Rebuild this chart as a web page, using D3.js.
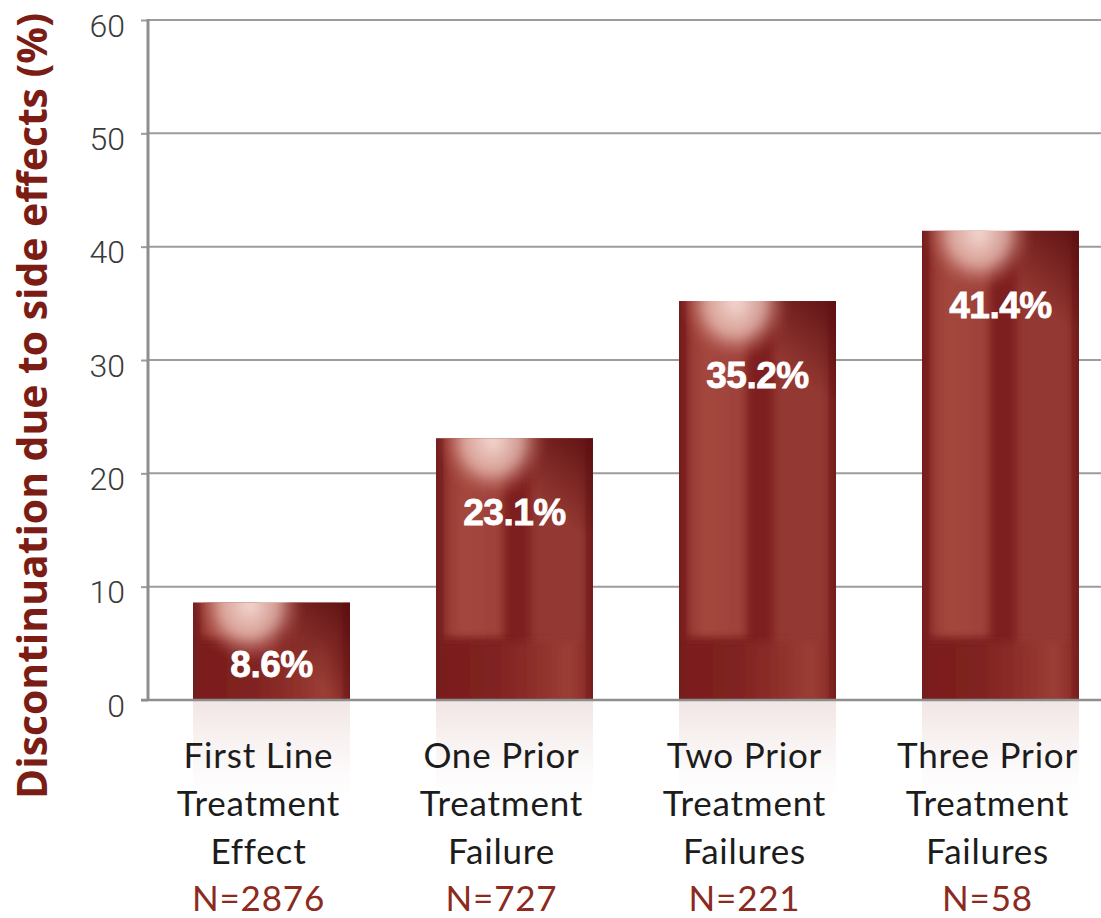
<!DOCTYPE html>
<html>
<head>
<meta charset="utf-8">
<script src="https://cdn.jsdelivr.net/npm/d3@7"></script>
<style>
  html, body { margin: 0; padding: 0; background: #ffffff; }
  svg { display: block; }
</style>
</head>
<body>
<svg id="chart" width="1101" height="918"></svg>
<script>
// ---- data ----
const categories = ["First Line Treatment Effect", "One Prior Treatment Failure", "Two Prior Treatment Failures", "Three Prior Treatment Failures"];
const labelLines = [
  ["First Line", "Treatment", "Effect"],
  ["One Prior", "Treatment", "Failure"],
  ["Two Prior", "Treatment", "Failures"],
  ["Three Prior", "Treatment", "Failures"]
];
const sampleSizes = ["N=2876", "N=727", "N=221", "N=58"];
const values = [8.6, 23.1, 35.2, 41.4];
const valueLabels = ["8.6%", "23.1%", "35.2%", "41.4%"];
const yTicks = [0, 10, 20, 30, 40, 50, 60];
const yTitle = "Discontinuation due to side effects (%)";

// ---- layout ----
const W = 1101, H = 918;
const axisX = 148, y0px = 700, y60px = 20;
const svg = d3.select("#chart");

const y = d3.scaleLinear().domain([0, 60]).range([y0px, y60px]);
const x = d3.scaleBand().domain(categories).range([150, 1122]).paddingInner(0.354).paddingOuter(0.177);

const defs = svg.append("defs");

const blur = defs.append("filter").attr("id", "soft").attr("x", "-30%").attr("y", "-30%").attr("width", "160%").attr("height", "160%");
blur.append("feGaussianBlur").attr("stdDeviation", 4);

// top highlight
const gR = defs.append("radialGradient").attr("id", "barHi").attr("cx", 0.5).attr("cy", 0.5).attr("r", 0.5);
gR.append("stop").attr("offset", 0).attr("stop-color", "#f3d9d2").attr("stop-opacity", 1);
gR.append("stop").attr("offset", 0.55).attr("stop-color", "#e2b0a6").attr("stop-opacity", 0.85);
gR.append("stop").attr("offset", 0.85).attr("stop-color", "#b8625a").attr("stop-opacity", 0.35);
gR.append("stop").attr("offset", 1).attr("stop-color", "#9a3a34").attr("stop-opacity", 0);

// top-right dark corner
const gC = defs.append("linearGradient").attr("id", "barCorner").attr("x1", 1).attr("x2", 0.45).attr("y1", 0).attr("y2", 0.7);
gC.append("stop").attr("offset", 0).attr("stop-color", "#5a0e10").attr("stop-opacity", 0.9);
gC.append("stop").attr("offset", 1).attr("stop-color", "#5a0e10").attr("stop-opacity", 0);

// left light strip gradient
const gL = defs.append("linearGradient").attr("id", "stripL").attr("x1", 0).attr("x2", 1).attr("y1", 0).attr("y2", 0);
gL.append("stop").attr("offset", 0).attr("stop-color", "#953830");
gL.append("stop").attr("offset", 0.3).attr("stop-color", "#a4473f");
gL.append("stop").attr("offset", 1).attr("stop-color", "#9d4139");

// bottom band gradient
const gB = defs.append("linearGradient").attr("id", "barB").attr("x1", 0).attr("x2", 1).attr("y1", 0).attr("y2", 0);
[[0, "#7a1d1d"], [0.35, "#7f2120"], [0.65, "#8e302b"], [0.85, "#9c3f37"], [1, "#842422"]].forEach(s => gB.append("stop").attr("offset", s[0]).attr("stop-color", s[1]));

// reflection
const gRef = defs.append("linearGradient").attr("id", "refl").attr("x1", 0).attr("x2", 0).attr("y1", 0).attr("y2", 1);
gRef.append("stop").attr("offset", 0).attr("stop-color", "#efe3e1").attr("stop-opacity", 0.9);
gRef.append("stop").attr("offset", 0.5).attr("stop-color", "#f7f0ef").attr("stop-opacity", 0.6);
gRef.append("stop").attr("offset", 1).attr("stop-color", "#ffffff").attr("stop-opacity", 0);

// ---- gridlines ----
svg.append("g").selectAll("line").data(yTicks.filter(t => t > 0)).join("line")
  .attr("x1", axisX).attr("x2", W)
  .attr("y1", d => y(d)).attr("y2", d => y(d))
  .attr("stroke", "#9c9c9c").attr("stroke-width", 2);

// ---- reflections ----
svg.append("g").selectAll("rect").data(categories).join("rect")
  .attr("x", d => x(d)).attr("y", y(0) + 1)
  .attr("width", x.bandwidth()).attr("height", 110)
  .attr("fill", "url(#refl)");

// ---- bars ----
const bars = svg.append("g").selectAll("g.bar").data(categories).join("g").attr("class", "bar");
bars.each(function(c, i) {
  const g = d3.select(this);
  const bx = x(c), bw = x.bandwidth(), top = y(values[i]), bot = y(0), bh = bot - top;
  const cid = "clip" + i;
  defs.append("clipPath").attr("id", cid).append("rect").attr("x", bx).attr("y", top).attr("width", bw).attr("height", bh);
  const inner = g.append("g").attr("clip-path", `url(#${cid})`);
  const bandH = 62;
  inner.append("rect").attr("x", bx).attr("y", top).attr("width", bw).attr("height", bh).attr("fill", "#7e1f1f");
  inner.append("rect").attr("x", bx + bw * 0.05).attr("y", top - 20).attr("width", bw * 0.38)
    .attr("height", Math.max(0, bot - bandH - top + 20)).attr("fill", "url(#stripL)").attr("filter", "url(#soft)");
  inner.append("rect").attr("x", bx + bw * 0.6).attr("y", top - 20).attr("width", bw * 0.36)
    .attr("height", bh + 40).attr("fill", "#933730").attr("filter", "url(#soft)");
  inner.append("rect").attr("x", bx).attr("y", bot - bandH + 4).attr("width", bw).attr("height", bandH)
    .attr("fill", "url(#barB)").attr("filter", "url(#soft)");
  inner.append("rect").attr("x", bx - 4).attr("y", top - 10).attr("width", 9).attr("height", bh + 20)
    .attr("fill", "#721a1b").attr("filter", "url(#soft)");
  inner.append("rect").attr("x", bx + bw - 5).attr("y", top - 10).attr("width", 9).attr("height", bh + 20)
    .attr("fill", "#721a1b").attr("filter", "url(#soft)");
  inner.append("rect").attr("x", bx + bw * 0.45).attr("y", top).attr("width", bw * 0.55).attr("height", 95).attr("fill", "url(#barCorner)");
  inner.append("ellipse").attr("cx", bx + bw * 0.36).attr("cy", top + 2)
    .attr("rx", bw * 0.34).attr("ry", 58).attr("fill", "url(#barHi)").attr("filter", "url(#soft)");
});

// ---- value labels ----
svg.append("g").selectAll("text").data(categories).join("text")
  .attr("x", d => x(d) + x.bandwidth() / 2)
  .attr("y", (d, i) => Math.min(y(values[i]) + 87, y(0) - 23))
  .attr("text-anchor", "middle")
  .attr("font-family", "'Liberation Sans', Arial, sans-serif")
  .attr("font-weight", "bold")
  .attr("font-size", 37)
  .attr("letter-spacing", -0.5)
  .attr("fill", "#ffffff")
  .attr("stroke", "#ffffff")
  .attr("stroke-width", 0.8)
  .text((d, i) => valueLabels[i]);

// ---- y axis ----
const yAxis = d3.axisLeft(y).tickValues(yTicks).tickSize(7).tickPadding(16).tickFormat(d3.format("d"));
const ag = svg.append("g").attr("transform", `translate(${axisX},0)`).call(yAxis);
ag.select(".domain").remove();
ag.selectAll(".tick line").attr("stroke", "#9c9c9c").attr("stroke-width", 2);
ag.selectAll(".tick text")
  .attr("font-family", "Roboto, 'Liberation Sans', Arial, sans-serif")
  .attr("font-weight", 300)
  .attr("font-size", 32)
  .attr("fill", "#3a3a3a")
  .attr("dy", "0.5em");
svg.append("line").attr("x1", axisX).attr("x2", axisX).attr("y1", y(60) - 1).attr("y2", y(0) + 1)
  .attr("stroke", "#8e8e8e").attr("stroke-width", 3);
svg.append("line").attr("x1", axisX - 7).attr("x2", W).attr("y1", y(0)).attr("y2", y(0))
  .attr("stroke", "#8e8e8e").attr("stroke-width", 2.5);

// ---- y title ----
svg.append("text")
  .attr("transform", `translate(47, 406) rotate(-90)`)
  .attr("text-anchor", "middle")
  .attr("font-family", "'Open Sans', Lato, sans-serif")
  .attr("font-weight", "bold")
  .attr("font-size", 41)
  .attr("textLength", 786)
  .attr("lengthAdjust", "spacingAndGlyphs")
  .attr("fill", "#7b1d15")
  .text(yTitle);

// ---- category labels ----
const lineY = [768, 816, 864, 911];
const lg = svg.append("g").selectAll("text").data(categories).join("text")
  .attr("text-anchor", "middle")
  .attr("font-family", "Lato, 'Open Sans', sans-serif")
  .attr("font-size", 35)
  .attr("letter-spacing", 0.8);
lg.each(function(d, i) {
  const t = d3.select(this);
  const cx = x(d) + x.bandwidth() / 2 - 13;
  labelLines[i].forEach((ln, k) => {
    t.append("tspan").attr("x", cx).attr("y", lineY[k]).attr("fill", "#1c1c1c").text(ln);
  });
  t.append("tspan").attr("x", cx).attr("y", lineY[3]).attr("fill", "#8c2a1e").text(sampleSizes[i]);
});
</script>
</body>
</html>
